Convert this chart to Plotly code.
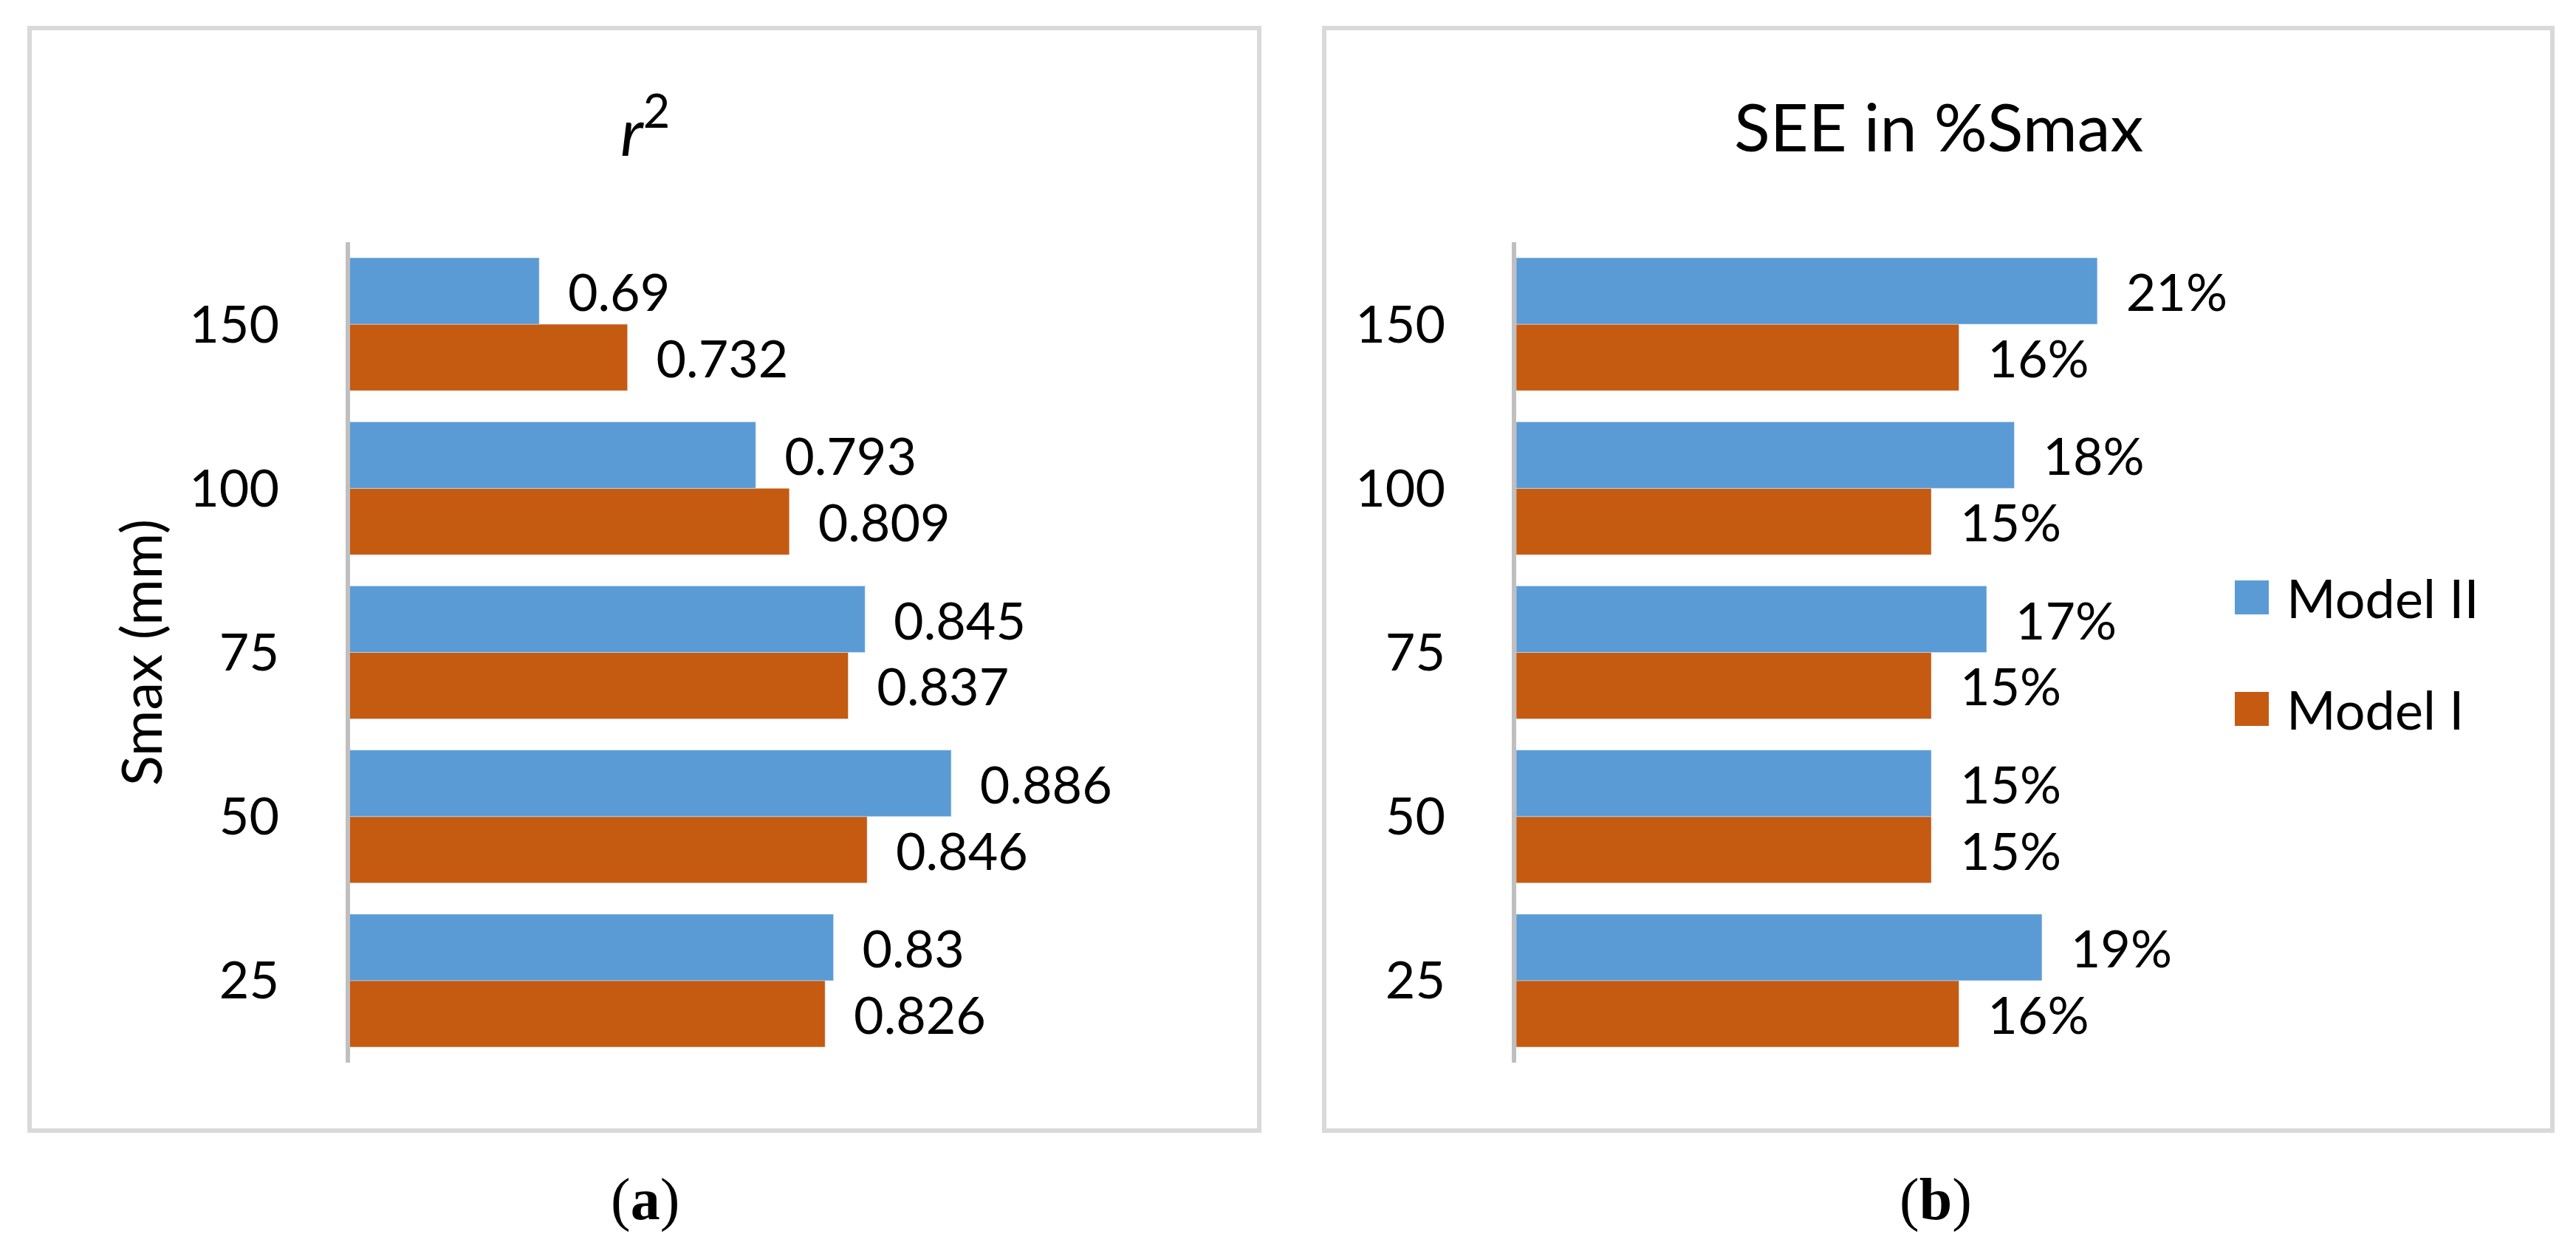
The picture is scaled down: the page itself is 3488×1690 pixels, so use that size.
import plotly.graph_objects as go

# ---- data ----
categories = ["25", "50", "75", "100", "150"]
r2_model_I = [0.826, 0.846, 0.837, 0.809, 0.732]
r2_model_II = [0.83, 0.886, 0.845, 0.793, 0.69]
see_model_I = [0.16, 0.15, 0.15, 0.15, 0.16]
see_model_II = [0.19, 0.15, 0.17, 0.18, 0.21]
series_names = ["Model I", "Model II"]
title_left = "<i>r</i><sup>2</sup>"
title_right = "SEE in %Smax"
yaxis_title = "Smax (mm)"
panel_labels = ["(<b>a</b>)", "(<b>b</b>)"]

BLUE = "#5B9BD5"
ORANGE = "#C55A11"
FONT = "Lato"
W, H = 3488, 1690
NB = "\u00a0\u00a0"


def px(x):
    return x / W


def py(y):
    return 1 - y / H


fig = go.Figure()

common = dict(orientation="h", textposition="outside", cliponaxis=False,
              constraintext="none", textfont=dict(family=FONT, size=70, color="black"),
              showlegend=False)

fig.add_trace(go.Bar(y=categories, x=r2_model_I, name=series_names[0], marker_color=ORANGE,
                     texttemplate=NB + "%{x}", xaxis="x", yaxis="y", **common))
fig.add_trace(go.Bar(y=categories, x=r2_model_II, name=series_names[1], marker_color=BLUE,
                     texttemplate=NB + "%{x}", xaxis="x", yaxis="y", **common))
fig.add_trace(go.Bar(y=categories, x=see_model_I, name=series_names[0], marker_color=ORANGE,
                     texttemplate=NB + "%{x:.0%}", xaxis="x2", yaxis="y2", **common))
fig.add_trace(go.Bar(y=categories, x=see_model_II, name=series_names[1], marker_color=BLUE,
                     texttemplate=NB + "%{x:.0%}", xaxis="x2", yaxis="y2", **common))

ydom = [py(1431), py(320)]
yax = dict(type="category", domain=ydom, showline=True, linecolor="#BFBFBF", linewidth=6,
           showgrid=False, zeroline=False, ticks="", ticklabelstandoff=76,
           tickfont=dict(family=FONT, size=70, color="black"), fixedrange=True)

fig.update_layout(
    width=W, height=H,
    margin=dict(l=0, r=0, t=0, b=0),
    paper_bgcolor="white", plot_bgcolor="white",
    barmode="group", bargap=0.19, bargroupgap=0,
    xaxis=dict(domain=[px(466), px(466) + 0.4 * 2846 / W], range=[0.6, 1.0], visible=False,
               fixedrange=True),
    yaxis=dict(anchor="x",
               title=dict(text=yaxis_title, font=dict(family=FONT, size=76, color="black"),
                          standoff=14),
               **yax),
    xaxis2=dict(domain=[px(2045), px(2045) + 0.25 * 3747 / W], range=[0, 0.25], visible=False,
                anchor="y2", fixedrange=True),
    yaxis2=dict(anchor="x2", **yax),
)

# panel frames
for x0, x1 in [(32, 1697), (1785, 3448)]:
    fig.add_shape(type="rect", xref="paper", yref="paper", x0=px(x0), x1=px(x1),
                  y0=py(1523), y1=py(30), line=dict(color="#D9D9D9", width=6),
                  fillcolor="rgba(0,0,0,0)", layer="below")

# titles
fig.add_annotation(x=px(865), y=py(162), xref="paper", yref="paper", text=title_left,
                   showarrow=False, font=dict(family=FONT, size=90, color="black"),
                   xanchor="center", yanchor="middle")
fig.add_annotation(x=px(2617), y=py(162), xref="paper", yref="paper", text=title_right,
                   showarrow=False, font=dict(family=FONT, size=90, color="black"),
                   xanchor="center", yanchor="middle")

# panel labels
for xc, lab in zip([865, 2613], panel_labels):
    fig.add_annotation(x=px(xc), y=py(1616), xref="paper", yref="paper", text=lab,
                       showarrow=False, font=dict(family="Liberation Serif", size=80, color="black"),
                       xanchor="center", yanchor="middle")

# legend (manual, large swatches)
legend_items = [(series_names[1], BLUE, 801), (series_names[0], ORANGE, 952)]
for name, col, yc in legend_items:
    fig.add_shape(type="rect", xref="paper", yref="paper", x0=px(3018), x1=px(3064),
                  y0=py(yc + 23), y1=py(yc - 23), line=dict(width=0), fillcolor=col)
    fig.add_annotation(x=px(3086), y=py(yc), xref="paper", yref="paper", text=name,
                       showarrow=False, font=dict(family=FONT, size=72, color="black"),
                       xanchor="left", yanchor="middle")

fig.write_html("out.html")
